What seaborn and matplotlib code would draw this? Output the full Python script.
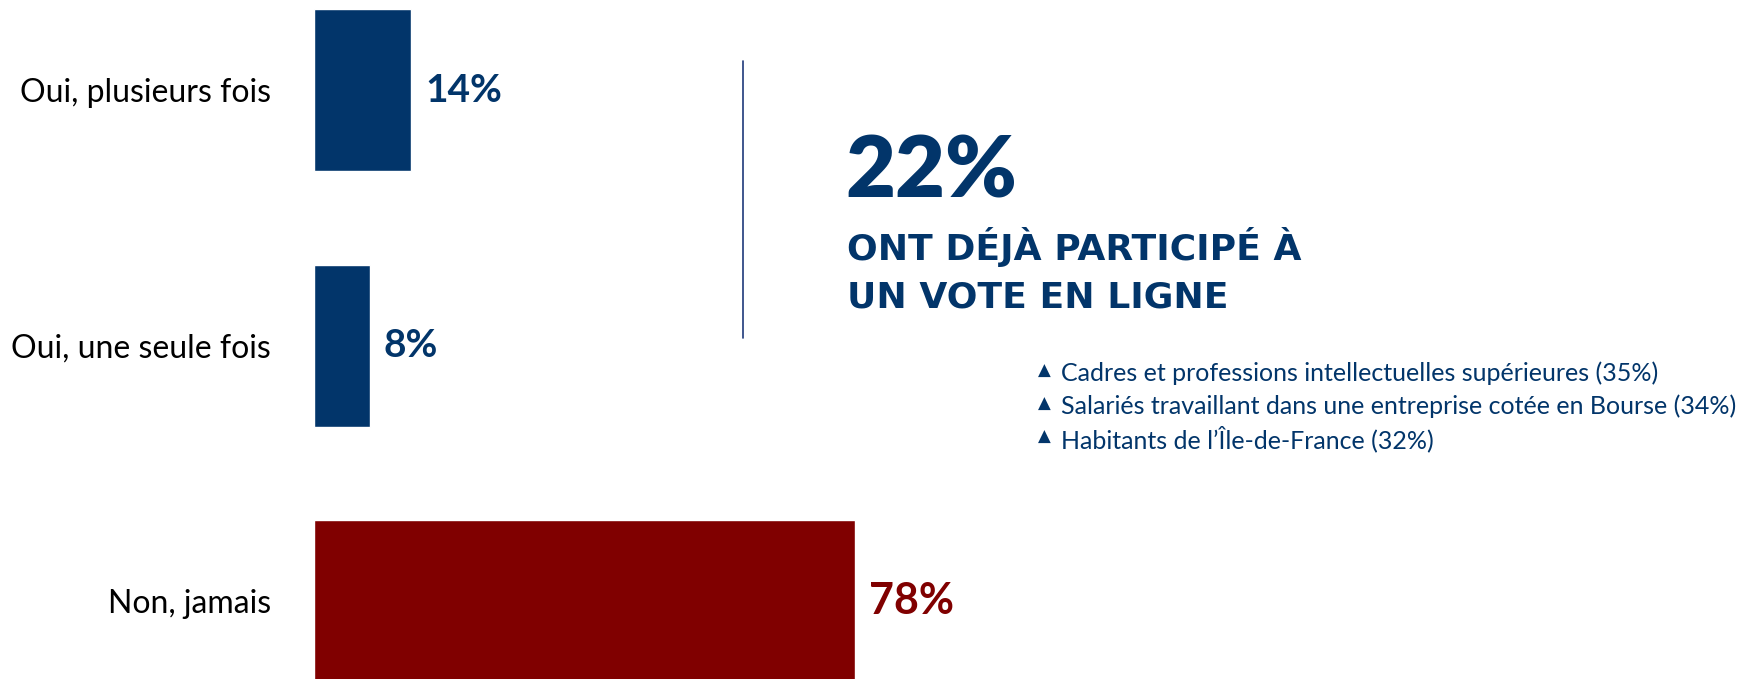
import matplotlib
matplotlib.use("Agg")
import matplotlib.pyplot as plt
import seaborn as sns
import pandas as pd

# Survey answers and their shares (%)
categories = ["Oui, plusieurs fois", "Oui, une seule fois", "Non, jamais"]
values = [14, 8, 78]
bar_colors = ["#02356A", "#02356A", "#800000"]

headline_value = "22%"
headline_text = ["ONT DÉJÀ PARTICIPÉ À", "UN VOTE EN LIGNE"]
highlights = [
    "Cadres et professions intellectuelles supérieures (35%)",
    "Salariés travaillant dans une entreprise cotée en Bourse (34%)",
    "Habitants de l\u2019Île-de-France (32%)",
]

sns.set_theme(style="white")
plt.rcParams["font.family"] = ["Lato", "DejaVu Sans"]

W, H = 1751, 679
fig = plt.figure(figsize=(W / 100, H / 100), dpi=100)
fig.patch.set_facecolor("white")

# Axes: x = 0 at 314 px, 100 % spans 694 px; rows spaced 255.5 px, first row centred at 90 px
px_per_unit = 255.5
ax = fig.add_axes([314 / W, 0, 694 / W, 1])
df = pd.DataFrame({"cat": categories, "val": values})
sns.barplot(data=df, x="val", y="cat", hue="cat", palette=bar_colors,
            orient="h", width=162 / px_per_unit, legend=False, ax=ax,
            saturation=1)
ax.set_xlim(0, 100)
ax.set_ylim(2 + (H - 601) / px_per_unit, -90 / px_per_unit)
ax.set_xlabel("")
ax.set_ylabel("")
ax.set_xticks([])
ax.tick_params(axis="y", length=0, pad=31, labelsize=23, labelcolor="#000000")
for lab in ax.get_yticklabels():
    lab.set_fontfamily(["Lato", "DejaVu Sans"])
sns.despine(ax=ax, left=True, bottom=True)

# Value labels at the end of each bar; the majority answer is set a little larger
max_v = max(values)
for i, (v, c) in enumerate(zip(values, bar_colors)):
    size = 31 if v == max_v else 28
    ax.annotate(f"{v}%", xy=(v, i), xytext=(10, 0), textcoords="offset points",
                va="center", ha="left", fontsize=size, fontweight="bold", color=c)

def fx(px):
    return px / W

def fy(py):
    return 1 - py / H

navy = "#02356A"

# Divider
fig.add_artist(plt.Line2D([fx(743), fx(743)], [fy(61), fy(338)],
                          color="#1F3A7A", linewidth=1.2))

# Headline figure
fig.text(fx(845), fy(172), headline_value, fontsize=62, fontweight="heavy",
         color=navy, ha="left", va="center")
fig.text(fx(847), fy(247), headline_text[0], fontsize=26, fontweight="bold",
         color=navy, ha="left", va="center", family=["DejaVu Sans"])
fig.text(fx(847), fy(298), headline_text[1], fontsize=26, fontweight="bold",
         color=navy, ha="left", va="center", family=["DejaVu Sans"])

# Highlighted sub-groups
for k, line in enumerate(highlights):
    y = fy(373 + 33 * k)
    fig.text(fx(1038), y + 0.003, "\u25B2", fontsize=12, color=navy,
             ha="left", va="center", family=["DejaVu Sans"])
    fig.text(fx(1061), y, line, fontsize=18, color=navy, ha="left", va="center")

fig.savefig("out.png", dpi=100, facecolor="white")
